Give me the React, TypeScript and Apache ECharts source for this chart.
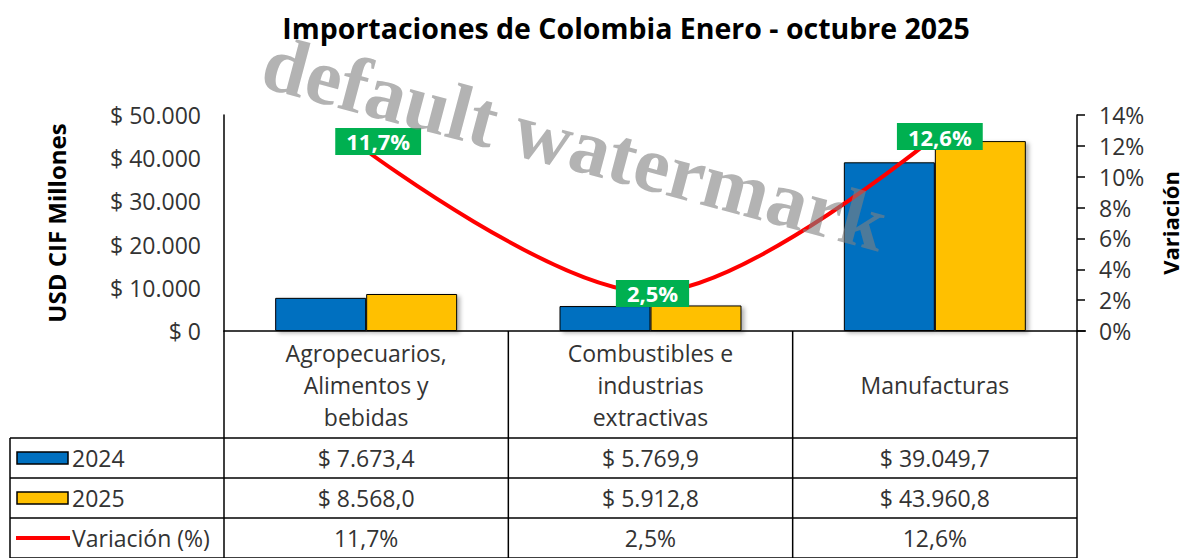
import React, { useEffect, useRef } from "react";
import * as echarts from "echarts";

const categories = ["Agropecuarios,\nAlimentos y\nbebidas", "Combustibles e\nindustrias\nextractivas", "Manufacturas"];
const values2024 = [7673.4, 5769.9, 39049.7];
const values2025 = [8568.0, 5912.8, 43960.8];
const variation = [11.7, 2.5, 12.6];
const seriesNames = ["2024", "2025", "Variación (%)"];
const titleText = "Importaciones de Colombia Enero - octubre 2025";
const labelOffsets = [[12, -9], [2, 1], [5, 0]];

const BLUE = "#0070C0";
const YELLOW = "#FFC000";
const RED = "#FF0000";
const GREEN = "#00B050";
const FONT = "Open Sans";
const TXT = "#333";
const FS = 23;

function fmtThousands(s: string) {
  return s.replace(/\B(?=(\d{3})+(?!\d))/g, ".");
}
function fmtMoney(v: number) {
  const [i, d] = v.toFixed(1).split(".");
  return "$ " + fmtThousands(i) + "," + d;
}
function fmtPct(v: number) {
  return v.toFixed(1).replace(".", ",") + "%";
}

export default function App() {
  const ref = useRef<HTMLDivElement>(null);
  useEffect(() => {
    document.body.style.margin = "0";
    const chart = echarts.init(ref.current!, null, { renderer: "svg" });
    const barItem = (color: string) => ({
      color,
      borderColor: "#000",
      borderWidth: 1,
      shadowColor: "rgba(0,0,0,0.3)",
      shadowBlur: 4,
      shadowOffsetX: 3,
      shadowOffsetY: 2,
    });
    chart.setOption({
      animation: false,
      textStyle: { fontFamily: FONT },
      grid: { left: 224, right: 108, top: 115, bottom: 227, containLabel: false, outerBoundsMode: "none" },
      xAxis: {
        type: "category",
        data: categories,
        axisLine: { show: true, lineStyle: { color: "#000", width: 1.5 } },
        axisTick: { show: false },
        axisLabel: {
          interval: 0,
          margin: 54,
          verticalAlign: "middle",
          align: "center",
          fontSize: FS,
          lineHeight: 32,
          color: TXT,
          fontFamily: FONT,
        },
      },
      yAxis: [
        {
          type: "value",
          min: 0,
          max: 50000,
          interval: 10000,
          name: "USD CIF Millones",
          nameLocation: "middle",
          nameGap: 156,
          nameRotate: 90,
          nameTextStyle: { fontSize: 24, fontWeight: "bold", color: "#000", fontFamily: FONT },
          axisLine: { show: true, lineStyle: { color: "#000", width: 1.5 } },
          axisTick: { show: false },
          splitLine: { show: false },
          axisLabel: {
            fontSize: FS,
            color: TXT,
            margin: 23,
            formatter: (v: number) => "$ " + fmtThousands(String(Math.round(v))),
          },
        },
        {
          type: "value",
          min: 0,
          max: 14,
          interval: 2,
          position: "right",
          name: "Variación",
          nameLocation: "middle",
          nameGap: 82,
          nameRotate: 90,
          nameTextStyle: { fontSize: 22, fontWeight: "bold", color: "#000", fontFamily: FONT },
          axisLine: { show: true, lineStyle: { color: "#000", width: 1.5 } },
          axisTick: { show: true, inside: false, length: 8, lineStyle: { color: "#000", width: 1.5 } },
          splitLine: { show: false },
          axisLabel: { fontSize: FS, color: TXT, margin: 22, formatter: "{value}%" },
        },
      ],
      series: [
        {
          name: seriesNames[0],
          type: "bar",
          data: values2024,
          barGap: "0%",
          barCategoryGap: "36%",
          itemStyle: barItem(BLUE),
        },
        {
          name: seriesNames[1],
          type: "bar",
          data: values2025,
          barGap: "0%",
          barCategoryGap: "36%",
          itemStyle: barItem(YELLOW),
        },
        {
          name: seriesNames[2],
          type: "line",
          yAxisIndex: 1,
          data: variation.map((v, i) => ({ value: v, label: { offset: labelOffsets[i] } })),
          smooth: 0.33,
          symbol: "circle",
          symbolSize: 2,
          itemStyle: { color: "rgba(0,0,0,0)" },
          lineStyle: { color: RED, width: 4 },
          z: 5,
          label: {
            show: true,
            position: "inside",
            formatter: (p: any) => fmtPct(p.value),
            color: "#fff",
            fontWeight: "bold",
            fontSize: 22,
            fontFamily: FONT,
            backgroundColor: GREEN,
            padding: [3, 11, 2, 11],
          },
        },
      ],
    });

    // Data table drawn beneath the plot
    const centers = categories.map((_, i) => chart.convertToPixel({ xAxisIndex: 0 }, i) as number);
    const band = centers[1] - centers[0];
    const colEdges = [centers[0] - band / 2, ...centers.map((c) => c + band / 2)];
    const axisY = chart.convertToPixel({ yAxisIndex: 0 }, 0) as number;
    const rowTop = 438;
    const rowH = 40;
    const tableLeft = 10;
    const tableBottom = rowTop + 3 * rowH;
    const rightX = colEdges[colEdges.length - 1];
    const lineStyle = { stroke: "#000", lineWidth: 1.5 };
    const g: any[] = [];
    colEdges.forEach((x) => {
      g.push({ type: "line", shape: { x1: x, y1: axisY, x2: x, y2: tableBottom }, style: lineStyle, silent: true });
    });
    g.push({ type: "line", shape: { x1: tableLeft, y1: rowTop, x2: tableLeft, y2: tableBottom }, style: lineStyle });
    for (let r = 0; r <= 3; r++) {
      const y = rowTop + r * rowH;
      g.push({ type: "line", shape: { x1: tableLeft, y1: y, x2: rightX, y2: y }, style: lineStyle });
    }
    g.push({ type: "line", shape: { x1: rightX, y1: axisY, x2: rightX + 9, y2: axisY }, style: lineStyle });
    const rows = [
      { vals: values2024.map(fmtMoney), key: "bar", color: BLUE },
      { vals: values2025.map(fmtMoney), key: "bar", color: YELLOW },
      { vals: variation.map(fmtPct), key: "line", color: RED },
    ];
    rows.forEach((row, r) => {
      const cy = rowTop + r * rowH + rowH / 2;
      if (row.key === "bar") {
        g.push({ type: "rect", shape: { x: 17, y: cy - 6, width: 51, height: 12 }, style: { fill: row.color, stroke: "#000", lineWidth: 1.5 } });
      } else {
        g.push({ type: "line", shape: { x1: 16, y1: cy, x2: 70, y2: cy }, style: { stroke: row.color, lineWidth: 4 } });
      }
      g.push({
        type: "text",
        x: 72,
        y: cy,
        style: { text: seriesNames[r], font: `${FS}px "${FONT}"`, fill: TXT, textAlign: "left", textVerticalAlign: "middle" },
      });
      row.vals.forEach((t, i) => {
        g.push({
          type: "text",
          x: centers[i],
          y: cy,
          style: { text: t, font: `${FS}px "${FONT}"`, fill: TXT, textAlign: "center", textVerticalAlign: "middle" },
        });
      });
    });
    g.push({
      type: "text",
      x: 626,
      y: 28,
      style: { text: titleText, font: `bold 28.5px "${FONT}"`, fill: "#000", textAlign: "center", textVerticalAlign: "middle" },
    });
    g.push({
      type: "text",
      x: 575,
      y: 143,
      rotation: -0.26,
      z: 100,
      style: {
        text: "default watermark",
        font: 'bold 80px "Liberation Serif"',
        fill: "rgba(128,128,128,0.6)",
        textAlign: "center",
        textVerticalAlign: "middle",
      },
    });
    chart.setOption({ graphic: { elements: g } });
    return () => chart.dispose();
  }, []);
  return <div ref={ref} style={{ position: "absolute", left: 0, top: 0, width: 1185, height: 558 }} />;
}
